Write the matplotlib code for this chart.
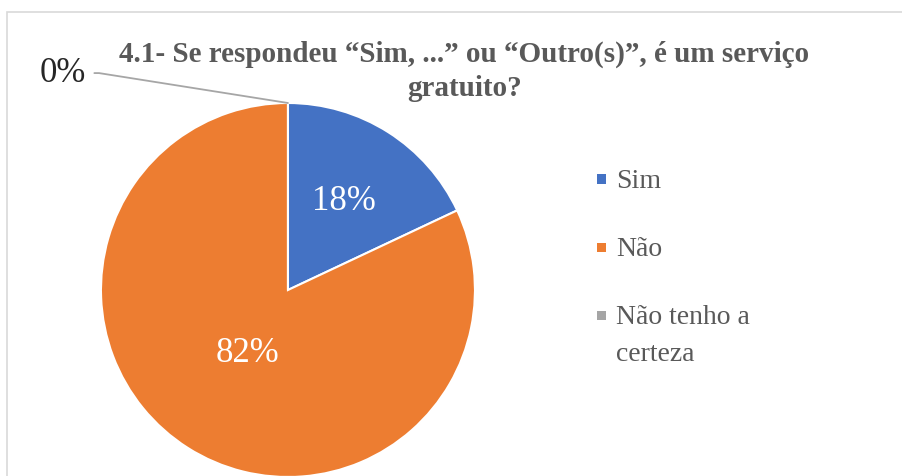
import numpy as np
import matplotlib
matplotlib.use("Agg")
import matplotlib.pyplot as plt
from matplotlib.patches import Rectangle

# Data
categories = ["Sim", "Não", "Não tenho a\ncerteza"]
values = [18, 82, 0]
pct_labels = ["18%", "82%", "0%"]
colors = ["#4472c4", "#ed7d31", "#a5a5a5"]
title = "4.1- Se respondeu “Sim, ...” ou “Outro(s)”, é um serviço\ngratuito?"

plt.rcParams["font.family"] = ["Liberation Serif", "DejaVu Serif"]

fig = plt.figure(figsize=(9.03, 4.76), dpi=100)
W, H = 903.0, 476.0

# chart area border
fig.patches.append(Rectangle((0.0078, -0.1), 1.1, 1.0748, transform=fig.transFigure,
                             facecolor="none", edgecolor="#d9d9d9", lw=1.2))

# pie axes, square in pixels
ax = fig.add_axes([0.1118, -0.0021, 0.4142, 0.7857])
wedges, _ = ax.pie(values, colors=colors, startangle=90, counterclock=False,
                   wedgeprops=dict(edgecolor="white", linewidth=1.5))
ax.set_xlim(-1, 1)
ax.set_ylim(-1, 1)

# percentage labels inside slices
dists = [0.56, 0.40]
for w, lab, d in zip(wedges[:2], pct_labels[:2], dists):
    ang = np.deg2rad((w.theta1 + w.theta2) / 2)
    ax.text(d * np.cos(ang), d * np.sin(ang), lab, color="white", fontsize=25,
            ha="center", va="center")

# 0% label outside with leader line
w0 = wedges[2]
ang0 = np.deg2rad(w0.theta1)
ax.annotate(pct_labels[2], xy=(np.cos(ang0), np.sin(ang0)), xytext=(-1.08, 1.16),
            ha="right", va="center", fontsize=25, color="#262626",
            annotation_clip=False,
            arrowprops=dict(arrowstyle="-", color="#a6a6a6", lw=1.3,
                            shrinkA=4, shrinkB=0,
                            connectionstyle="angle,angleA=0,angleB=-9,rad=0"))

# title
fig.text(0.514, 1 - 41 / H, title, ha="center", va="top", fontsize=21, fontweight="bold",
         color="#595959", linespacing=1.32)

# legend, drawn by hand so the marker sits on the first line of a wrapped label
y0, step = 179, 68
for i, (lab, c) in enumerate(zip(categories, colors)):
    yc = 1 - (y0 + i * step) / H
    fig.patches.append(Rectangle((597 / W, yc - 4.5 / H), 9 / W, 9 / H,
                                 transform=fig.transFigure, facecolor=c, edgecolor="none"))
    fig.text(616 / W, yc + 10 / H, lab, ha="left", va="top", fontsize=20,
             color="#595959", linespacing=1.62)

fig.savefig("out.png", dpi=100)
